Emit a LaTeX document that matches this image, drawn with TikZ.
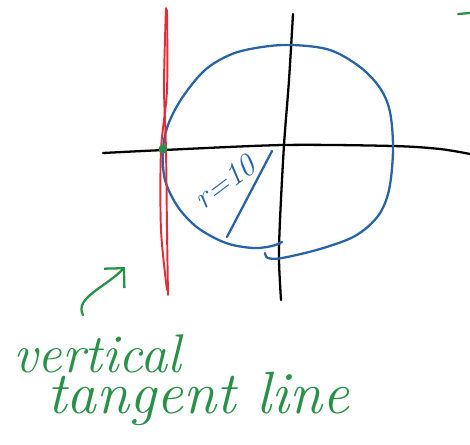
\documentclass[tikz,border=0pt]{standalone}
\usetikzlibrary{
    arrows.meta,
    calc
}
\definecolor{penblue}{RGB}{40,100,165}
\definecolor{penred}{RGB}{225,45,55}
\definecolor{pengreen}{RGB}{40,145,70}
\tikzset{
  every path/.style={
    line cap=round,
    line join=round
  },
  axisline/.style={black,line width=1.3pt},
  circline/.style={penblue,line width=1.3pt},
  tanline/.style={penred,line width=1.1pt},
  noteline/.style={pengreen,line width=1.3pt},
  note/.style={pengreen,font=\itshape,inner sep=0pt,anchor=base west},
  rlabel/.style={penblue,font=\fontsize{18}{22}\selectfont\itshape,inner sep=0pt}
}
\begin{document}
\begin{tikzpicture}[x=0.02cm,y=-0.02cm,>={Straight Barb[length=8pt,width=16pt]}]
    \useasboundingbox (0,0) rectangle (470,444);

    % 軸
    \draw[axisline] plot[smooth] coordinates
        {(103,153) (164,150) (284,145) (393,146) (440,149) (470,154)};
    \draw[axisline] plot[smooth] coordinates
        {(293,14) (289,80) (284,145) (280,220) (279,260) (281,300)};

    % 円
    \draw[circline] plot[smooth,tension=0.55] coordinates
        {(265,253) (268,258) (282,258) (320,249) (355,236) (378,216)
         (389,190) (393,150) (390,112) (380,88) (360,67) (330,50)
         (293,45) (262,47) (232,54) (205,70) (182,98) (168,125)
         (163,150) (165,180) (178,207) (198,228) (226,243) (253,248)
         (272,246) (282,242)};

    % 半径
    \coordinate (rin) at (227,237);
    \coordinate (rout) at (272,151);
    \draw[circline] (rin) -- (rout);
    \node[rlabel,rotate=37] (rlab) at (225,182) {r=10};

    % 接線
    \draw[tanline] plot[smooth] coordinates
        {(166,8) (164,85) (166,150) (167,230) (168,295)};
    \draw[tanline] plot[smooth] coordinates
        {(167,10) (167,90) (161,150) (161,230) (167,290)};

    % 接点
    \fill[pengreen] (163,149) circle (4.5);

    % 注釈
    \coordinate (arrtail) at (83,315);
    \coordinate (arrtip) at (125,267);
    \draw[noteline,->] (arrtail) .. controls (74,298) and (106,287) .. (arrtip);
    \node[note,font=\fontsize{31}{36}\selectfont\itshape] (vlab) at (13,372) {vertical};
    \node[note,font=\fontsize{34}{40}\selectfont\itshape] (tlab) at (47,413) {tangent line};

    % 右上
    \coordinate (dashl) at (458,14);
    \coordinate (dashr) at (470,13);
    \draw[noteline] (dashl) -- (dashr);
\end{tikzpicture}
\end{document}
